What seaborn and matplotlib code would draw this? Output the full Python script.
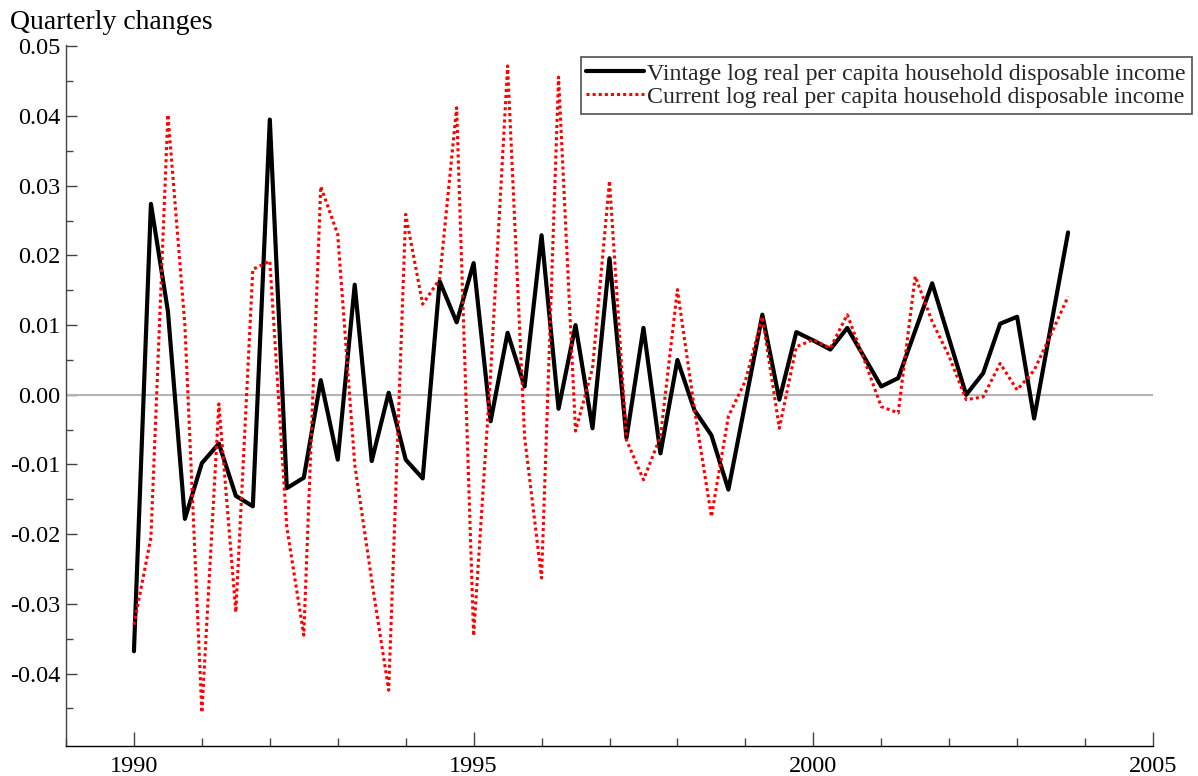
import numpy as np
import pandas as pd
import matplotlib
matplotlib.use("Agg")
import matplotlib.pyplot as plt
import seaborn as sns
from matplotlib.ticker import MultipleLocator, FixedLocator, FuncFormatter

# ---- data (quarterly, 1990Q1 .. 2003Q4) ----
start_year = 1990
vintage = [
    -0.0368, 0.0274, 0.0120, -0.0178, -0.0098, -0.0070, -0.0145, -0.0160,
    0.0395, -0.0134, -0.0119, 0.0021, -0.0093, 0.0158, -0.0095, 0.0003,
    -0.0093, -0.0120, 0.0163, 0.0104, 0.0189, -0.0038, 0.0089, 0.0012,
    0.0229, -0.0020, 0.0100, -0.0048, 0.0196, -0.0062, 0.0096, -0.0084,
    0.0050, -0.0022, -0.0058, -0.0136, -0.0011, 0.0115, -0.0007, 0.0090,
    0.0078, 0.0065, 0.0096, 0.0054, 0.0012, 0.0024, 0.0092, 0.0160,
    0.0080, 0.0000, 0.0031, 0.0102, 0.0112, -0.0034, 0.0100, 0.0233,
]
current = [
    -0.0330, -0.0205, 0.0402, 0.0100, -0.0456, -0.0013, -0.0312, 0.0180,
    0.0192, -0.0190, -0.0345, 0.0299, 0.0230, -0.0100, -0.0266, -0.0424,
    0.0259, 0.0130, 0.0166, 0.0412, -0.0346, 0.0030, 0.0472, -0.0060,
    -0.0263, 0.0456, -0.0052, 0.0038, 0.0307, -0.0065, -0.0122, -0.0060,
    0.0151, -0.0020, -0.0175, -0.0031, 0.0020, 0.0112, -0.0048, 0.0069,
    0.0079, 0.0067, 0.0115, 0.0050, -0.0017, -0.0026, 0.0170, 0.0105,
    0.0055, -0.0007, -0.0003, 0.0045, 0.0007, 0.0035, 0.0087, 0.0141,
]
y_major_ticks = [-0.04, -0.03, -0.02, -0.01, 0.00, 0.01, 0.02, 0.03, 0.04, 0.05]
label_vintage = "Vintage log real per capita household disposable income"
label_current = "Current log real per capita household disposable income"
y_title = "Quarterly changes"

time = start_year + np.arange(len(vintage)) / 4.0
df = pd.DataFrame({"time": time, "vintage": vintage, "current": current})

# ---- style ----
sns.set_theme(style="white")
plt.rcParams["font.family"] = ["Liberation Serif", "DejaVu Serif"]
plt.rcParams["axes.unicode_minus"] = False

W, H = 1198, 776
fig = plt.figure(figsize=(W / 100, H / 100), dpi=100)
ax = fig.add_axes([66 / W, 1 - 746 / H, (1153 - 66) / W, (746 - 45) / H])

ax.axhline(0, color="#b4b4b4", lw=1.5, zorder=1)
sns.lineplot(data=df, x="time", y="vintage", ax=ax, color="black", lw=3.0,
             label=label_vintage, zorder=3)
sns.lineplot(data=df, x="time", y="current", ax=ax, color="#ff0000", lw=2.2,
             linestyle=(0, (1, 1)), label=label_current, zorder=4)

ax.set_xlim(1989, 2005)
ax.set_ylim(-0.0504, 0.0502)
ax.set_xlabel("")
ax.set_ylabel("")

for side in ["top", "right"]:
    ax.spines[side].set_visible(False)
ax.spines["left"].set_color("#444444")
ax.spines["bottom"].set_color("black")
for side in ["left", "bottom"]:
    ax.spines[side].set_linewidth(1.0)

ax.xaxis.set_major_locator(MultipleLocator(5))
ax.xaxis.set_minor_locator(MultipleLocator(1))
ax.yaxis.set_major_locator(FixedLocator(y_major_ticks))
ax.yaxis.set_minor_locator(FixedLocator([t - 0.005 for t in y_major_ticks]))
ax.yaxis.set_major_formatter(FuncFormatter(lambda v, p: f"{v:.2f}" if abs(v) > 1e-9 else "0.00"))
ax.xaxis.set_major_formatter(FuncFormatter(lambda v, p: f"{int(round(v))}"))

ax.tick_params(axis="both", which="major", direction="in", width=1,
               color="#444444", labelsize=17.5, labelcolor="black")
ax.tick_params(axis="both", which="minor", direction="in", width=1, color="#444444")
ax.tick_params(axis="y", which="both", left=True, pad=4)
ax.tick_params(axis="x", which="both", bottom=True, pad=7)
ax.tick_params(axis="x", which="major", length=10)
ax.tick_params(axis="x", which="minor", length=6)
ax.tick_params(axis="y", which="major", length=8)
ax.tick_params(axis="y", which="minor", length=5)

fig.text(10 / W, 1 - 29 / H, y_title, fontsize=20, ha="left", va="baseline", color="black")

leg = ax.legend(loc="upper right", bbox_to_anchor=(1192 / W, 1 - 57 / H),
                bbox_transform=fig.transFigure, borderaxespad=0, fontsize=17.2,
                frameon=True, fancybox=False, framealpha=1, edgecolor="#505050",
                handlelength=2.4, handletextpad=0.15, labelspacing=0.05,
                borderpad=0.25)
leg.get_frame().set_linewidth(1.2)

fig.savefig("out.png", dpi=100)
